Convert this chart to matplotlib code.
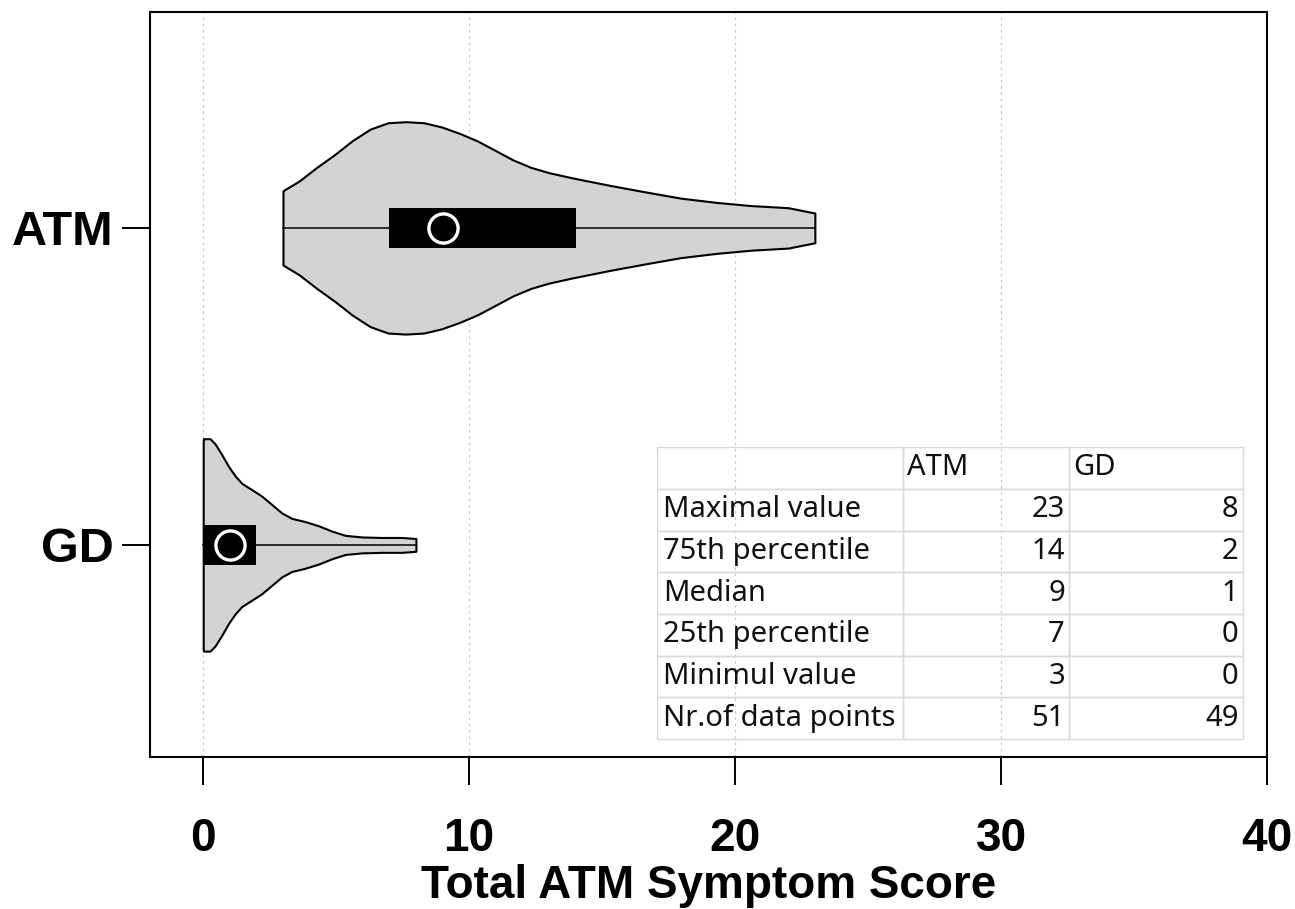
import matplotlib
matplotlib.use("Agg")
import matplotlib.pyplot as plt

# groups and their positions on the y axis
groups = ["GD", "ATM"]
positions = [1, 2]

# summary values (same as the table)
max_vals = [8, 23]
q75 = [2, 14]
medians = [1, 9]
q25 = [0, 7]
min_vals = [0, 3]
n_points = [49, 51]

# violin outline: score -> relative half width
gd_x = [0, 0.01, 0.26, 0.45, 0.7, 0.95, 1.2, 1.45, 1.83, 2.2, 2.58, 2.96,
        3.33, 3.83, 4.34, 4.84, 5.34, 5.97, 6.72, 7.47, 8.0]
gd_w = [0.97, 1.0, 1.0, 0.95, 0.85, 0.74, 0.65, 0.58, 0.52, 0.46, 0.38, 0.30,
        0.25, 0.22, 0.18, 0.13, 0.09, 0.075, 0.07, 0.07, 0.06]
atm_x = [3.0, 3.6, 4.27, 4.94, 5.6, 6.28, 6.95, 7.62, 8.3, 8.97, 9.64, 10.3,
         10.98, 11.65, 12.32, 13.0, 13.9, 15.3, 16.6, 17.96, 19.3, 20.6, 22.0, 23.0]
atm_w = [0.35, 0.44, 0.57, 0.69, 0.82, 0.93, 0.99, 1.0, 0.99, 0.95, 0.89, 0.82,
         0.73, 0.64, 0.57, 0.52, 0.47, 0.40, 0.34, 0.28, 0.24, 0.21, 0.19, 0.14]
profiles_x = [gd_x, atm_x]
profiles_w = [gd_w, atm_w]

row_labels = ["Maximal value", "75th percentile", "Median", "25th percentile",
              "Minimul value", "Nr.of data points"]
xticks = [0, 10, 20, 30, 40]

half_width = 0.335
box_half = 0.062

fig = plt.figure(figsize=(12.95, 9.09), dpi=100)
ax = fig.add_axes([150 / 1295, 1 - 757 / 909, 1117 / 1295, 745 / 909])

for i in range(2):
    p = positions[i]
    w = [v * half_width for v in profiles_w[i]]
    lo = [p - v for v in w]
    hi = [p + v for v in w]
    ax.fill_between(profiles_x[i], lo, hi, facecolor="#d3d3d3", edgecolor="black",
                    linewidth=1.5, zorder=2)
    ax.plot([min_vals[i], max_vals[i]], [p, p], color="black", lw=1.1, zorder=3)
    ax.fill_between([q25[i], q75[i]], p - box_half, p + box_half, color="black",
                    linewidth=0, zorder=4)
    ax.plot(medians[i], p, "o", markersize=21, markerfacecolor="black",
            markeredgecolor="white", markeredgewidth=2.4, zorder=5)

ax.set_xlim(-2, 40)
ax.set_ylim(0.331, 2.681)
ax.set_xticks(xticks)
ax.set_yticks(positions)
ax.set_yticklabels(groups)
ax.grid(axis="x", color="#c8c8c8", linestyle=(0, (2, 3)), linewidth=0.9, zorder=0)
ax.set_axisbelow(True)

for s in ax.spines.values():
    s.set_linewidth(1.5)
ax.tick_params(axis="x", length=20, width=1.4, pad=23)
ax.tick_params(axis="y", length=20, width=1.4, pad=6)
for lab in ax.get_xticklabels():
    lab.set_fontfamily("Liberation Sans")
    lab.set_fontweight("bold")
    lab.set_fontsize(33)
for lab in ax.get_yticklabels():
    lab.set_fontfamily("Liberation Sans")
    lab.set_fontweight("bold")
    lab.set_fontsize(35)
ax.set_xlabel("Total ATM Symptom Score", fontfamily="Liberation Sans",
              fontweight="bold", fontsize=33, labelpad=2)

# summary table
cells = [["", "ATM", "GD"]]
stats = [max_vals, q75, medians, q25, min_vals, n_points]
for lab, vals in zip(row_labels, stats):
    cells.append([lab, str(vals[1]), str(vals[0])])

tab = ax.table(cellText=cells, colWidths=[0.42, 0.283, 0.297],
               bbox=[0.454, 0.024, 0.5245, 0.392], zorder=6)
tab.auto_set_font_size(False)
tab.set_fontsize(21)
for (r, c), cell in tab.get_celld().items():
    cell.set_edgecolor("#d9d9d9")
    cell.set_linewidth(1.0)
    cell.set_facecolor("none")
    txt = cell.get_text()
    txt.set_fontfamily(["Noto Sans", "DejaVu Sans"])
    txt.set_color("#111111")
    cell.PAD = 0.025
    if r == 0 or c == 0:
        txt.set_horizontalalignment("left")
    else:
        txt.set_horizontalalignment("right")

fig.savefig("out.png", dpi=100)
